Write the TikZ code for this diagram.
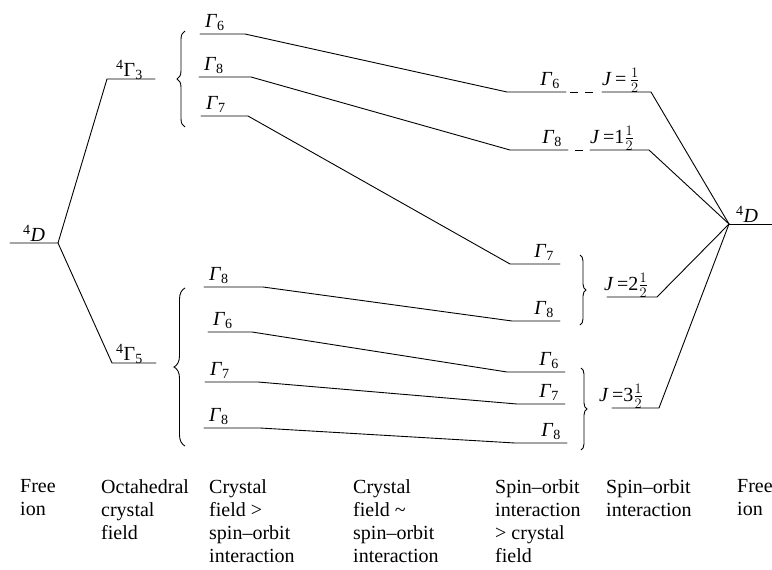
\documentclass[tikz,border=0pt]{standalone}
\usepackage{fontspec}
\setmainfont{Liberation Serif}
\usepackage{tikz}
\usetikzlibrary{decorations.pathreplacing}
\newcommand\gam[1]{\textit{Γ}\textsubscript{#1}}
\newcommand\half{$\frac{1}{2}$}
\tikzset{
  lvl/.style={line width=0.9pt,line cap=round},
  gap/.style={line width=0.9pt,dash pattern=on 8pt off 7pt},
  brc/.style={decorate,decoration={brace,amplitude=#1},line width=0.9pt},
  glab/.style={font=\fontsize{20}{24}\selectfont,inner sep=1pt},
  captxt/.style={font=\fontsize{20}{23.3}\selectfont,align=left,inner sep=0pt,anchor=north west}
}
\begin{document}
\begin{tikzpicture}[x=1pt,y=-1pt]
  \useasboundingbox (0,0) rectangle (772,570);
  % free ion and octahedral field
  \coordinate (d0a) at (10,243);
  \coordinate (d0b) at (58,243);
  \coordinate (t3a) at (107,79);
  \coordinate (t3b) at (155,79);
  \coordinate (t5a) at (112,363);
  \coordinate (t5b) at (156,363);
  \draw[lvl] (d0a) -- (d0b) -- (t3a) -- (t3b);
  \draw[lvl] (d0b) -- (t5a) -- (t5b);
  \node[glab,anchor=south west] (d0L) at (22,243) {\textsuperscript{4}\textit{D}};
  \node[glab,anchor=south west] (t3L) at (115,81) {\textsuperscript{4}Γ\textsubscript{3}};
  \node[glab,anchor=south west] (t5L) at (115,365) {\textsuperscript{4}Γ\textsubscript{5}};
  % crystal field levels
  \foreach \nm/\xa/\xb/\ya/\xc/\xd/\yb/\g in {
    ua/200/245/34/507/566/92/6, ub/199/251/77/510/568/150/8, uc/201/248/116/510/560/264/7,
    la/204/263/287/512/560/321/8, lb/208/252/332/507/565/372/6,
    lc/205/258/382/517/565/404/7, ld/204/260/428/515/567/443/8}{
    \coordinate (\nm1) at (\xa,\ya);
    \coordinate (\nm2) at (\xb,\ya);
    \coordinate (\nm3) at (\xc,\yb);
    \coordinate (\nm4) at (\xd,\yb);
    \draw[lvl] (\nm1) -- (\nm2) -- (\nm3) -- (\nm4);
    \node[glab,anchor=south west,xshift=4pt,yshift=2pt] (\nm L) at (\nm1) {\gam{\g}};
    \node[glab,anchor=south east,xshift=-5pt,yshift=2pt] (\nm R) at (\nm4) {\gam{\g}};
  }
  \draw[brc=8pt] (185,127) -- (185,31);
  \draw[brc=11pt] (185,446) -- (185,288);
  \draw[brc=6pt] (580,255) -- (580,325);
  \draw[brc=6pt] (581,368) -- (581,450);
  % spin-orbit levels
  \coordinate (d1a) at (729,224);
  \coordinate (d1b) at (772,224);
  \draw[lvl] (d1a) -- (d1b);
  \node[glab,anchor=south west] (d1L) at (735,224) {\textsuperscript{4}\textit{D}};
  \foreach \nm/\xa/\xb/\y in {ja/602/651/92, jb/590/649/150, jc/607/657/297, jd/612/659/408}{
    \coordinate (\nm1) at (\xa,\y);
    \coordinate (\nm2) at (\xb,\y);
    \draw[lvl] (\nm1) -- (\nm2) -- (d1a);
  }
  \coordinate (ga1) at (570,92);
  \coordinate (ga2) at (596,92);
  \coordinate (gb1) at (575,150);
  \coordinate (gb2) at (584,150);
  \draw[gap] (ga1) -- (ga2);
  \draw[gap] (gb1) -- (gb2);
  \node[glab,anchor=south west] (jaL) at (601,94) {\textit{J}\,=\,\half};
  \node[glab,anchor=south west] (jbL) at (589,152) {\textit{J}\,=1\half};
  \node[glab,anchor=south west] (jcL) at (603,299) {\textit{J}\,=2\half};
  \node[glab,anchor=south west] (jdL) at (598,410) {\textit{J}\,=3\half};
  % column captions
  \node[captxt] (c1) at (20,479) {Free\\ion};
  \node[captxt] (c2) at (101,479) {Octahedral\\crystal\\field};
  \node[captxt] (c3) at (209,479) {Crystal\\field >\\spin–orbit\\interaction};
  \node[captxt] (c4) at (353,479) {Crystal\\field \textasciitilde\\spin–orbit\\interaction};
  \node[captxt] (c5) at (495,479) {Spin–orbit\\interaction\\> crystal\\field};
  \node[captxt] (c6) at (606,479) {Spin–orbit\\interaction};
  \node[captxt] (c7) at (737,479) {Free\\ion};
\end{tikzpicture}
\end{document}
